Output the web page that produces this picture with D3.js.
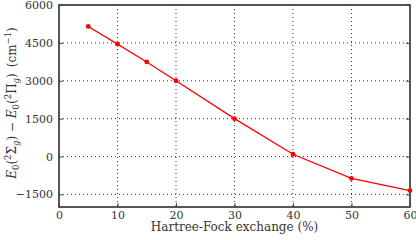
<!DOCTYPE html>
<html>
<head>
<meta charset="utf-8">
<script src="https://cdn.jsdelivr.net/npm/d3@7"></script>
<style>
  body { margin: 0; background: #fff; }
  svg { display: block; }
  svg text { font-family: "DejaVu Serif", "Liberation Serif", serif; }
</style>
</head>
<body>
<svg></svg>
<script>
// Datos
const exchange = [5, 10, 15, 20, 30, 40, 50, 60];
const energy = [5150, 4450, 3745, 3000, 1500, 90, -870, -1350];
const xTicks = [0, 10, 20, 30, 40, 50, 60];
const yTicks = [-1500, 0, 1500, 3000, 4500, 6000];

const width = 416, height = 240;
const margin = { top: 5, right: 6, bottom: 33, left: 59 };
const innerWidth = width - margin.left - margin.right;
const innerHeight = height - margin.top - margin.bottom;
const serif = "DejaVu Serif, Liberation Serif, serif";

const svg = d3.select("svg").attr("width", width).attr("height", height);
const g = svg.append("g").attr("transform", `translate(${margin.left},${margin.top})`);

const xScale = d3.scaleLinear().domain([0, 60]).range([0, innerWidth]);
const yScale = d3.scaleLinear().domain([-2000, 6000]).range([innerHeight, 0]);

// Rejilla punteada
g.selectAll(".vgrid").data(xTicks.slice(1, -1)).enter().append("line")
  .attr("x1", d => xScale(d)).attr("x2", d => xScale(d))
  .attr("y1", 0).attr("y2", innerHeight)
  .attr("stroke", "#000").attr("stroke-width", 0.8).attr("stroke-dasharray", "1,3");
g.selectAll(".hgrid").data(yTicks.filter(d => d < 6000)).enter().append("line")
  .attr("x1", 0).attr("x2", innerWidth)
  .attr("y1", d => yScale(d)).attr("y2", d => yScale(d))
  .attr("stroke", "#000").attr("stroke-width", 0.8).attr("stroke-dasharray", "1,3");

// Ejes (marcas hacia dentro)
const xAxis = d3.axisBottom(xScale).tickValues(xTicks).tickSize(-4).tickPadding(4.5);
const yAxis = d3.axisLeft(yScale).tickValues(yTicks).tickSize(-4).tickPadding(6)
  .tickFormat(d => d < 0 ? "\u2212" + Math.abs(d) : d);

function styleAxis(s) {
  s.attr("font-family", serif).attr("font-size", 11);
  s.select(".domain").remove();
  s.selectAll("line").attr("stroke", "#444");
  s.selectAll("text").attr("fill", "#333");
}
g.append("g").attr("transform", `translate(0,${innerHeight})`).call(xAxis).call(styleAxis);
g.append("g").call(yAxis).call(styleAxis);
g.append("g").attr("transform", `translate(${innerWidth},0)`)
  .call(d3.axisRight(yScale).tickValues(yTicks).tickSize(-4).tickFormat(""))
  .call(styleAxis);

// Marco
g.append("rect").attr("x", 0).attr("y", 0)
  .attr("width", innerWidth).attr("height", innerHeight)
  .attr("fill", "none").attr("stroke", "#444").attr("stroke-width", 1.8);

// Línea y puntos
const data = exchange.map((x, i) => ({ x, y: energy[i] }));
g.append("path").datum(data)
  .attr("fill", "none").attr("stroke", "#f00").attr("stroke-width", 1.3)
  .attr("d", d3.line().x(d => xScale(d.x)).y(d => yScale(d.y)));
g.selectAll(".dot").data(data).enter().append("circle")
  .attr("cx", d => xScale(d.x)).attr("cy", d => yScale(d.y))
  .attr("r", 2.4).attr("fill", "#f00");

// Etiquetas
svg.append("text")
  .attr("x", margin.left + innerWidth / 2).attr("y", 231)
  .attr("text-anchor", "middle").attr("font-size", 12).attr("fill", "#333")
  .attr("font-family", serif)
  .text("Hartree-Fock exchange (%)");

const yl = svg.append("text")
  .attr("transform", `translate(16,103) rotate(-90)`)
  .attr("text-anchor", "middle").attr("font-size", 12).attr("fill", "#333")
  .attr("font-family", serif);
const parts = [
  ["E", "i", 0], ["0", "s", 3], ["(", "n", -3], ["2", "p", -5], ["\u03A3", "n", 5],
  ["g", "si", 3], [") \u2212 ", "n", -3], ["E", "i", 0], ["0", "s", 3], ["(", "n", -3],
  ["2", "p", -5], ["\u03A0", "n", 5], ["g", "si", 3], [")\u2002(cm", "n", -3],
  ["\u22121", "p", -5], [")", "n", 5]
];
parts.forEach(([t, k, dy]) => {
  const ts = yl.append("tspan").attr("dy", dy).text(t);
  if (k.includes("i")) ts.attr("font-style", "italic");
  if (k.includes("s") || k.includes("p")) ts.attr("font-size", 8.5);
});
</script>
</body>
</html>
